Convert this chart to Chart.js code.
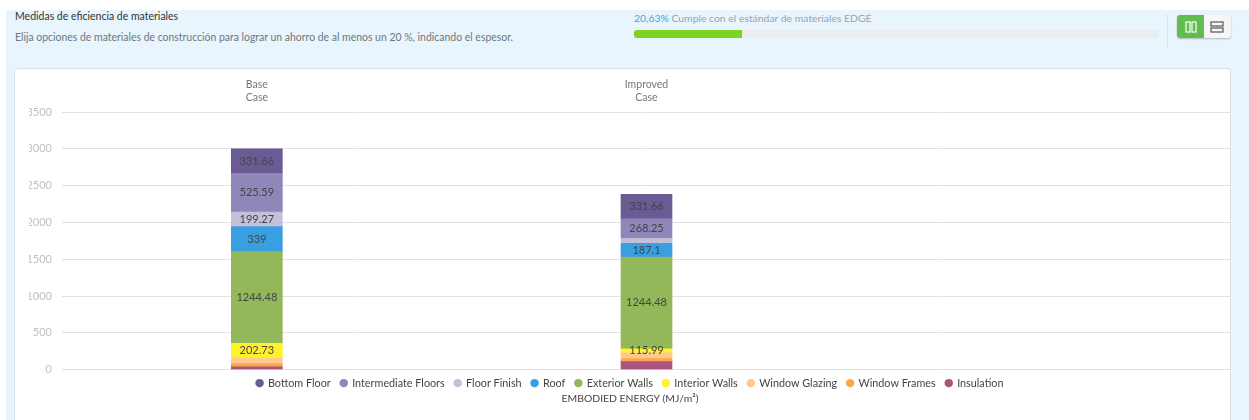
<!DOCTYPE html>
<html>
<head>
<meta charset="utf-8">
<script src="https://cdn.jsdelivr.net/npm/chart.js@4/dist/chart.umd.min.js"></script>
<style>
  html, body { margin: 0; padding: 0; background: #fff; font-family: Lato, sans-serif; }
  body { width: 1249px; height: 420px; overflow: hidden; position: relative; }
  #panel { position: absolute; left: 6px; top: 10px; width: 1243px; height: 410px; background: #e9f5fc; }
  .abs { position: absolute; white-space: nowrap; }
  #title { left: 15px; top: 10px; font-size: 10.5px; color: #333; }
  #subtitle { left: 15px; top: 31px; font-size: 10.45px; color: #6d7780; }
  #saving { left: 634px; top: 12px; font-size: 10.4px; color: #9aa3aa; }
  #saving span { color: #3aa7e0; }
  #track { left: 634px; top: 30px; width: 524px; height: 8px; background: #ececec; border-radius: 3px; }
  #fill { left: 634px; top: 30px; width: 108px; height: 8px; background: #7ed321; border-radius: 3px 0 0 3px; }
  #divider { left: 1167px; top: 14px; width: 1px; height: 34px; background: #dbe6ec; }
  #toggle { left: 1177px; top: 15px; width: 54px; height: 23px; background: #f4f6f7; border-radius: 3px; box-shadow: 0 1px 2px rgba(0,0,0,.25); }
  #toggleOn { left: 1177px; top: 15px; width: 27px; height: 23px; background: #62bd4f; border-radius: 3px 0 0 3px; }
  #card { left: 14px; top: 68px; width: 1217px; height: 360px; background: #fff; border: 1px solid #d8e2e8; border-radius: 4px; box-sizing: border-box; }
  #chartBox { left: 15px; top: 69px; width: 1216px; height: 351px; }
</style>
</head>
<body>
<div id="panel"></div>
<div class="abs" id="title">Medidas de eficiencia de materiales</div>
<div class="abs" id="subtitle">Elija opciones de materiales de construcción para lograr un ahorro de al menos un 20 %, indicando el espesor.</div>
<div class="abs" id="saving"><span>20,63%</span> Cumple con el estándar de materiales EDGE</div>
<div class="abs" id="track"></div>
<div class="abs" id="fill"></div>
<div class="abs" id="divider"></div>
<div class="abs" id="toggle"></div>
<div class="abs" id="toggleOn"></div>
<svg class="abs" style="left:1177px;top:15px" width="54" height="23" fill="none" stroke-width="1.2">
  <rect x="9" y="7" width="4" height="10" stroke="#fff"/>
  <rect x="15" y="7" width="4" height="10" stroke="#fff"/>
  <rect x="34" y="7" width="12" height="4" stroke="#555"/>
  <rect x="34" y="13" width="12" height="4" stroke="#555"/>
</svg>
<div class="abs" id="card"></div>
<div class="abs" id="chartBox"><canvas id="materialsChart" width="1216" height="351"></canvas></div>

<script>
const categories = [["Base", "Case"], ["Improved", "Case"], ""];
const yTicks = [0, 500, 1000, 1500, 2000, 2500, 3000, 3500];

// bar heights, base case / improved case
const insulation = [40, 110, null];
const windowFrames = [42, 40, null];
const windowGlazing = [75, 80, null];
const interiorWalls = [202.73, 55, null];
const exteriorWalls = [1244.48, 1244.48, null];
const roof = [339, 187.1, null];
const floorFinish = [199.27, 65, null];
const intermediateFloors = [525.59, 268.25, null];
const bottomFloor = [331.66, 331.66, null];

// text printed on the bars, not every segment has one
const interiorWallsText = ["202.73", "115.99", ""];
const exteriorWallsText = ["1244.48", "1244.48", ""];
const roofText = ["339", "187.1", ""];
const floorFinishText = ["199.27", "", ""];
const intermediateFloorsText = ["525.59", "268.25", ""];
const bottomFloorText = ["331.66", "331.66", ""];

const fontName = "Lato";

// no datalabels plugin available, write the text on the bars by hand
const barText = {
  id: 'barText',
  afterDatasetsDraw(chart) {
    const c = chart.ctx;
    c.save();
    c.font = '11px ' + fontName;
    c.fillStyle = '#444';
    c.textAlign = 'center';
    c.textBaseline = 'middle';
    chart.data.datasets.forEach((ds, i) => {
      if (!ds.barLabels) return;
      chart.getDatasetMeta(i).data.forEach((bar, j) => {
        if (ds.barLabels[j]) c.fillText(ds.barLabels[j], bar.x, bar.y + bar.height / 2);
      });
    });
    c.restore();
  }
};

// legend sits a bit tighter under the plot than its padding allows
const legendNudge = {
  id: 'legendNudge',
  afterLayout(chart) { chart.legend.top -= 2; }
};

function series(label, data, color, barLabels) {
  return { label: label, data: data, backgroundColor: color, borderWidth: 0, barThickness: 51, barLabels: barLabels };
}

new Chart(document.getElementById("materialsChart").getContext('2d'), {
  type: 'bar',
  data: {
    labels: categories,
    datasets: [
      series("Insulation", insulation, "#ae5280"),
      series("Window Frames", windowFrames, "#ffa64d"),
      series("Window Glazing", windowGlazing, "#ffc98f"),
      series("Interior Walls", interiorWalls, "#fff22b", interiorWallsText),
      series("Exterior Walls", exteriorWalls, "#92b85a", exteriorWallsText),
      series("Roof", roof, "#3a9fe0", roofText),
      series("Floor Finish", floorFinish, "#c5bfd9", floorFinishText),
      series("Intermediate Floors", intermediateFloors, "#9186b9", intermediateFloorsText),
      series("Bottom Floor", bottomFloor, "#6b5b95", bottomFloorText)
    ]
  },
  options: {
    responsive: false,
    animation: false,
    layout: { padding: { left: 14, right: 0, top: 0, bottom: 0 } },
    scales: {
      x: {
        stacked: true,
        position: 'top',
        grid: { display: false },
        border: { display: false },
        ticks: { color: '#777', font: { family: fontName, size: 10.5 }, maxRotation: 0, padding: 0 },
        afterFit(scale) { scale.height = 43; }
      },
      y: {
        stacked: true,
        min: 0,
        max: 3500,
        afterBuildTicks(scale) { scale.ticks = yTicks.map(v => ({ value: v })); },
        grid: { color: '#e2e2e2', lineWidth: 1, drawTicks: false },
        border: { display: false },
        ticks: { color: '#c0c0c0', font: { family: fontName, size: 11 }, padding: 10, callback: v => String(v) },
        afterFit(scale) { scale.width = 33; }
      }
    },
    plugins: {
      legend: {
        position: 'bottom',
        reverse: true,
        labels: {
          usePointStyle: true,
          pointStyle: 'circle',
          boxWidth: 6,
          boxHeight: 6,
          padding: 10,
          color: '#444',
          font: { family: fontName, size: 10.8 }
        }
      },
      title: {
        display: true,
        position: 'bottom',
        text: "EMBODIED ENERGY (MJ/m²)",
        color: '#444',
        font: { family: fontName, size: 10.4, weight: 'normal' },
        padding: { top: -8, bottom: 15 }
      },
      tooltip: { enabled: false }
    }
  },
  plugins: [barText, legendNudge]
});
</script>
</body>
</html>
